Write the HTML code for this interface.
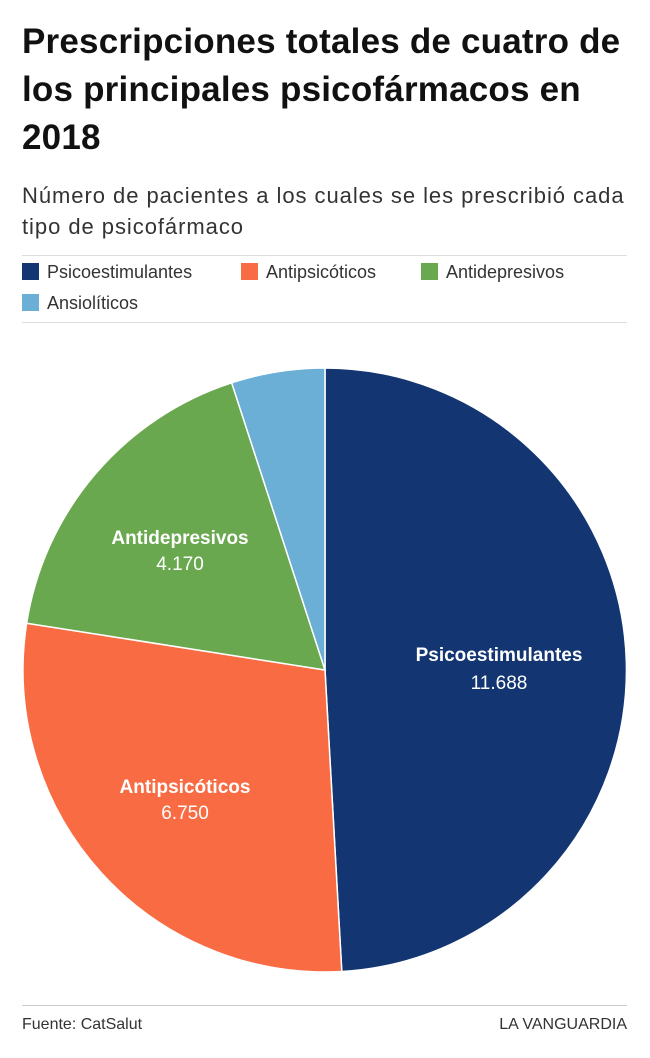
<!DOCTYPE html>
<html><head><meta charset="utf-8"><style>
body{margin:0;width:650px;height:1058px;background:#fff;font-family:"Liberation Sans",sans-serif;color:#1a1a1a;position:relative;overflow:hidden}
.t{position:absolute;left:22px;top:18px;font-size:35px;font-weight:bold;line-height:48px;letter-spacing:0.2px;white-space:nowrap;color:#111}
.s{position:absolute;left:22px;top:180px;font-size:22px;line-height:31px;letter-spacing:0.95px;color:#333;white-space:nowrap}
.hr{position:absolute;left:22px;width:605px;height:1px;background:#ddd}
.lg{position:absolute;font-size:18px;color:#333;letter-spacing:0}
.lg i{display:inline-block;width:17px;height:17px;vertical-align:-2px;margin-right:8px}
.f{position:absolute;top:1016px;font-size:16px;color:#333}
</style></head><body>
<div class="t">Prescripciones totales de cuatro de<br>los principales psicofármacos en<br>2018</div>
<div class="s">Número de pacientes a los cuales se les prescribió cada<br>tipo de psicofármaco</div>
<div class="hr" style="top:255px"></div>
<div class="lg" style="left:22px;top:262px"><i style="background:#133672"></i>Psicoestimulantes</div>
<div class="lg" style="left:241px;top:262px"><i style="background:#f96b43"></i>Antipsicóticos</div>
<div class="lg" style="left:421px;top:262px"><i style="background:#6aa84f"></i>Antidepresivos</div>
<div class="lg" style="left:22px;top:293px"><i style="background:#6baed6"></i>Ansiolíticos</div>
<div class="hr" style="top:322px"></div>
<svg style="position:absolute;left:0;top:0" width="650" height="1058">
<g stroke="#fff" stroke-width="1.5">
<path d="M325,670 L325,368 A302,302 0 0 1 341.8,971.5 Z" fill="#133672"/>
<path d="M325,670 L341.8,971.5 A302,302 0 0 1 26.65,623.2 Z" fill="#f96b43"/>
<path d="M325,670 L26.65,623.2 A302,302 0 0 1 231.7,382.8 Z" fill="#6aa84f"/>
<path d="M325,670 L231.7,382.8 A302,302 0 0 1 325,368 Z" fill="#6baed6"/>
</g>
<g fill="#fff" font-family="Liberation Sans,sans-serif" text-anchor="middle" font-size="19">
<text x="499" y="661" font-weight="bold">Psicoestimulantes</text><text x="499" y="689">11.688</text>
<text x="185" y="793" font-weight="bold">Antipsicóticos</text><text x="185" y="819">6.750</text>
<text x="180" y="544" font-weight="bold">Antidepresivos</text><text x="180" y="570">4.170</text>
</g></svg>
<div class="hr" style="top:1005px;background:#ccc"></div>
<div class="f" style="left:22px">Fuente: CatSalut</div>
<div class="f" style="right:23px">LA VANGUARDIA</div>
</body></html>
